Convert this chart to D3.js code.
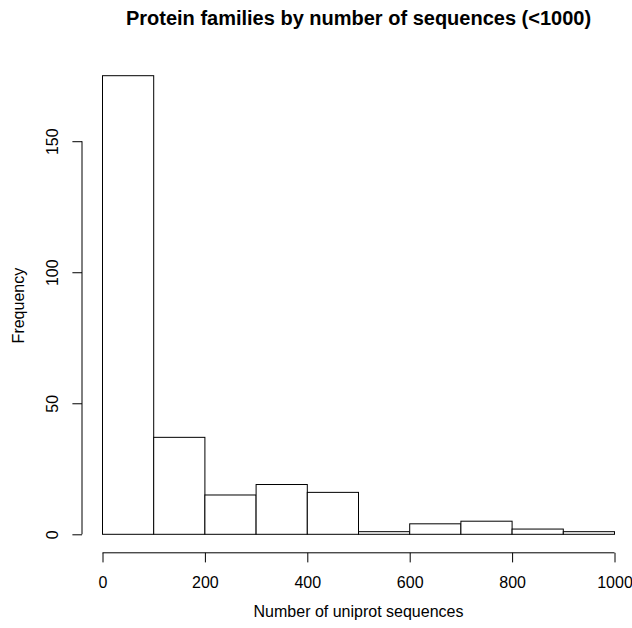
<!DOCTYPE html>
<html>
<head>
<meta charset="utf-8">
<script src="https://cdn.jsdelivr.net/npm/d3@7"></script>
<style>
  html, body { margin: 0; padding: 0; background: #fff; }
  svg { display: block; }
  text { font-family: "Liberation Sans", Arial, Helvetica, sans-serif; fill: #000; }
</style>
</head>
<body>
<script>
// ---- data ----
const binStarts = [0, 100, 200, 300, 400, 500, 600, 700, 800, 900];
const binEnds   = [100, 200, 300, 400, 500, 600, 700, 800, 900, 1000];
const counts    = [175, 37, 15, 19, 16, 1, 4, 5, 2, 1];
const xTicks    = [0, 200, 400, 600, 800, 1000];
const yTicks    = [0, 50, 100, 150];
const titleText = "Protein families by number of sequences (<1000)";
const xLabel    = "Number of uniprot sequences";
const yLabel    = "Frequency";

// ---- layout ----
const W = 632, H = 628;
const svg = d3.select("body").append("svg").attr("width", W).attr("height", H);

const x = d3.scaleLinear().domain([0, 1000]).range([102.5, 614.5]);
const y = d3.scaleLinear().domain([0, 175]).range([534.3, 75.7]);
const axisX = 82;      // y-axis position
const axisY = 552.8;   // x-axis position
const tick = 9.6;

// bars
svg.append("g").selectAll("rect")
  .data(counts)
  .join("rect")
  .attr("x", (d, i) => x(binStarts[i]))
  .attr("y", d => y(d))
  .attr("width", (d, i) => x(binEnds[i]) - x(binStarts[i]))
  .attr("height", d => y(0) - y(d))
  .attr("fill", "#fff")
  .attr("stroke", "#000")
  .attr("stroke-width", 1);

// x axis
const gx = svg.append("g").attr("transform", `translate(0,${axisY})`)
  .call(d3.axisBottom(x).tickValues(xTicks).tickSize(tick).tickSizeOuter(0).tickPadding(0).tickFormat(d3.format("d")));
gx.select(".domain").attr("d", `M${x(0)},0H${x(1000)}`).attr("stroke", "#000");
gx.selectAll(".tick line").attr("stroke", "#000");
gx.selectAll(".tick text").attr("y", 35.2).attr("dy", null)
  .attr("font-size", 16).attr("font-family", "Liberation Sans, Arial, sans-serif").attr("fill", "#000");

// y axis
const gy = svg.append("g").attr("transform", `translate(${axisX},0)`)
  .call(d3.axisLeft(y).tickValues(yTicks).tickSize(tick).tickSizeOuter(0).tickPadding(0).tickFormat(d3.format("d")));
gy.select(".domain").attr("d", `M0,${y(0)}V${y(150)}`).attr("stroke", "#000");
gy.selectAll(".tick line").attr("stroke", "#000");
gy.selectAll(".tick text")
  .attr("x", null).attr("dy", null)
  .attr("text-anchor", "middle")
  .attr("transform", "translate(-23.7,0) rotate(-90)")
  .attr("font-size", 16).attr("font-family", "Liberation Sans, Arial, sans-serif").attr("fill", "#000");

// title
svg.append("text")
  .attr("x", (x(0) + x(1000)) / 2).attr("y", 25)
  .attr("text-anchor", "middle")
  .attr("font-size", 20).attr("font-weight", "bold")
  .text(titleText);

// x label
svg.append("text")
  .attr("x", (x(0) + x(1000)) / 2).attr("y", 617)
  .attr("text-anchor", "middle")
  .attr("font-size", 16)
  .text(xLabel);

// y label
svg.append("text")
  .attr("transform", `translate(24,${(axisY + 58.4) / 2}) rotate(-90)`)
  .attr("text-anchor", "middle")
  .attr("font-size", 16)
  .text(yLabel);
</script>
</body>
</html>
